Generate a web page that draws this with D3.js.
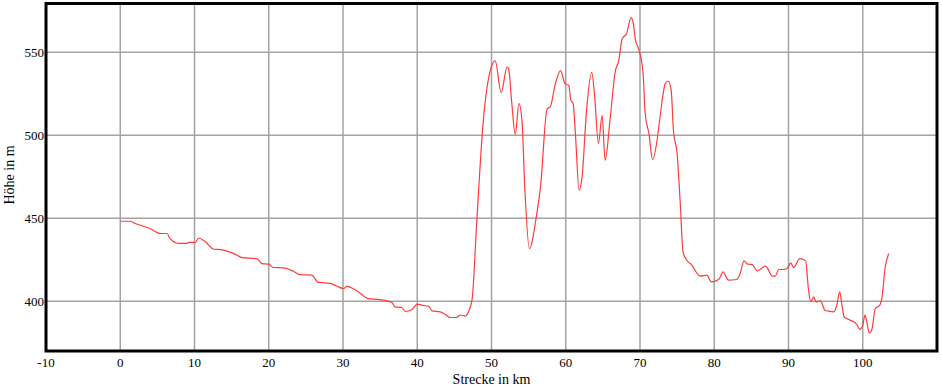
<!DOCTYPE html>
<html><head><meta charset="utf-8">
<script src="https://cdn.jsdelivr.net/npm/d3@7"></script>
<style>body{margin:0;background:#fff}svg{display:block}text{font-family:"Liberation Serif","Times New Roman",serif;fill:#000}</style>
</head><body><div id="c"></div>
<script>
const xTicks = [-10,0,10,20,30,40,50,60,70,80,90,100];
const yTicks = [400,450,500,550];
const xLabel = "Strecke in km";
const yLabel = "Höhe in m";
const distKm = [0,1.35,2.0,3.1,4.0,5.4,6.3,6.7,7.85,9.0,9.2,10.1,10.55,11.4,12.6,13.5,15.3,16.4,18.4,19.1,20,20.6,22,23.3,24.2,25.8,26.7,28.3,29.2,30.1,30.5,31.9,33.4,35,36.6,37.0,37.9,38.4,39.3,40,40.8,41.5,42,43.1,43.8,44.4,45.3,45.8,46.5,46.9,47.4,48.0,48.9,49.6,50.5,51.3,52.1,52.3,52.7,53.2,53.7,54.1,54.5,55.1,56.1,56.6,57.5,57.9,58.6,59.3,59.9,60.4,60.7,61.0,61.3,61.8,62.2,62.8,63.5,63.9,64.4,64.9,65.3,66.0,66.7,67.1,67.6,68.2,68.8,69.1,69.4,69.8,70.4,70.7,71.2,71.7,72.3,72.7,73.4,73.8,74.2,74.5,75.0,75.4,75.8,76.3,77.0,77.4,78.1,79.0,79.6,80.6,81.2,81.9,83.0,83.5,84.0,84.5,85.1,85.8,86.9,87.2,87.8,88.2,88.7,89.3,89.8,90.3,90.7,91.5,92.3,92.7,93.0,93.4,93.7,94.3,94.9,95.4,96.1,96.5,96.9,97.2,97.5,98.3,99.2,99.6,100.0,100.3,100.5,100.9,101.2,101.7,102.3,102.6,103.0,103.5];
const elevM = [448.2,448.2,446.8,445.2,443.8,440.8,440.8,437.8,434.8,434.8,435.4,435.4,438.1,436.1,431.3,431.1,428.7,426.3,425.7,422.7,422.3,420.3,420.1,418.1,416.0,415.7,411.3,410.7,409,407.6,409,406.2,401.6,401,399.2,396.6,396.2,393.8,395,398.2,397.4,397,394.2,393.6,392,390.2,390.2,391.7,391.1,393.6,401.6,446.8,509,534.2,544.8,525.7,541.1,540.2,521,500.6,519.1,509,466.9,431.7,452.8,468.9,516,517,531,538.9,531.1,530.1,521,519,501,466.9,474.9,515,537.9,523,495,512,484.9,511,539.2,544.2,558.2,561.3,570.9,567.3,557.2,552.2,538.1,513.1,501,485.4,497,511,531.1,532.7,527.1,503,489,460.8,429.7,424.7,421.7,418.7,415.1,415.7,411.6,413.1,417.7,412.7,413.1,416.7,424.3,422.3,422.1,418.3,421.1,419.7,415.1,415.1,419.1,419.1,419.7,423.1,420.3,425.7,424.3,406.6,399.6,402.6,399.6,400.2,394.6,394,393.6,397.6,405.6,397.6,390.6,388.6,386.1,383,385.5,391.6,388.6,380.9,382.5,395.6,397.6,402.6,419.7,428.7];

const W = 942, H = 386;
const L = 46, R = 937, T = 2.5, B = 351;
const svg = d3.select("#c").append("svg").attr("width", W).attr("height", H);
const x = d3.scaleLinear().domain([-10, 110]).range([L, R]);
const y = d3.scaleLinear().domain([370, 580]).range([B, T]);

const g = svg.append("g");
// grid
g.selectAll(".vg").data(xTicks.filter(d => d > -10)).enter().append("line")
  .attr("x1", d => x(d)).attr("x2", d => x(d)).attr("y1", T).attr("y2", B)
  .attr("stroke", "#a3a3a3").attr("stroke-width", 1.5);
g.selectAll(".hg").data(yTicks).enter().append("line")
  .attr("x1", L).attr("x2", R).attr("y1", d => y(d)).attr("y2", d => y(d))
  .attr("stroke", "#a3a3a3").attr("stroke-width", 1.5);

// line
const pts = distKm.map((d, i) => [d, elevM[i]]);
svg.append("path").datum(pts)
  .attr("fill", "none").attr("stroke", "#ff3b3b").attr("stroke-width", 1.2)
  .attr("d", d3.line().x(d => x(d[0])).y(d => y(d[1])).curve(d3.curveMonotoneX));

// border
svg.append("rect").attr("x", L).attr("y", T + 1).attr("width", R - L).attr("height", B - T - 1)
  .attr("fill", "none").attr("stroke", "#000").attr("stroke-width", 3);

// tick labels
svg.selectAll(".xt").data(xTicks).enter().append("text")
  .attr("x", d => x(d)).attr("y", 367).attr("text-anchor", "middle")
  .style("font-size", "13px").text(d => d);
svg.selectAll(".yt").data(yTicks).enter().append("text")
  .attr("x", 44).attr("y", d => y(d) + 4.5).attr("text-anchor", "end")
  .style("font-size", "13px").text(d => d);

svg.append("text").attr("x", x(50)).attr("y", 384).attr("text-anchor", "middle")
  .style("font-size", "14px").text(xLabel);
svg.append("text").attr("transform", "translate(14,175) rotate(-90)").attr("text-anchor", "middle")
  .style("font-size", "14px").text(yLabel);
</script></body></html>
